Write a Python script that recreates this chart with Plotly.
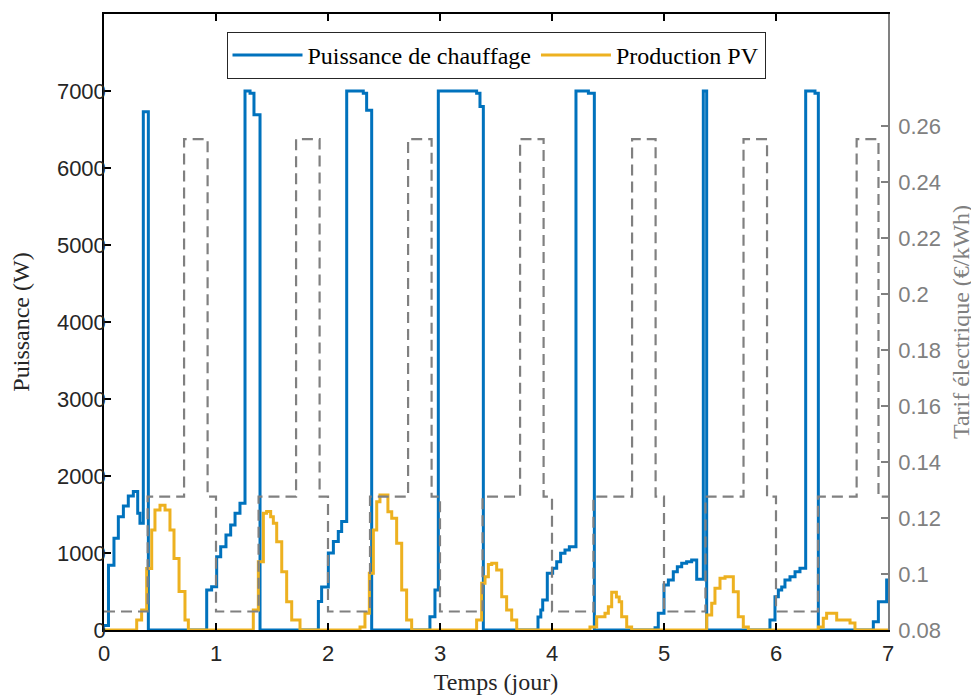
import plotly.graph_objects as go

# ---- Heating power (W), step breakpoints: time (day) / value ----
heat_t = [0.0, 0.04, 0.089, 0.128, 0.173, 0.217, 0.262, 0.301, 0.321, 0.351, 0.396,
          0.917, 0.961, 1.006, 1.042, 1.089, 1.131, 1.17, 1.214, 1.259, 1.304, 1.339, 1.393,
          1.914, 1.943, 2.003, 2.048, 2.092, 2.122, 2.167, 2.315, 2.345, 2.39,
          2.91, 2.955, 2.985, 3.327, 3.357, 3.387,
          3.875, 3.9, 3.917, 3.958, 4.006, 4.042, 4.077, 4.116, 4.155, 4.214, 4.325, 4.378,
          4.92, 4.949, 5.0, 5.039, 5.083, 5.119, 5.158, 5.202, 5.247, 5.292, 5.351, 5.381,
          5.946, 5.991, 6.021, 6.051, 6.08, 6.125, 6.17, 6.214, 6.265, 6.348, 6.378,
          6.869, 6.914, 6.988, 7.0]
heat_w = [60, 840, 1190, 1470, 1610, 1740, 1800, 1515, 1385, 6730, 0,
          519, 563, 952, 1082, 1234, 1364, 1515, 1645, 7000, 6970, 6690, 0,
          370, 560, 1000, 1150, 1280, 1410, 7000, 6970, 6750, 0,
          173, 519, 7000, 6970, 6800, 0,
          170, 260, 390, 736, 801, 887, 996, 1039, 1082, 7000, 6970, 0,
          30, 216, 584, 649, 757, 822, 866, 887, 909, 660, 7000, 0,
          130, 433, 519, 560, 649, 692, 757, 801, 7000, 6970, 0,
          108, 368, 649, 649]

# ---- PV production (W) ----
pv_t = [0.0, 0.292, 0.336, 0.381, 0.426, 0.455, 0.5, 0.545, 0.589, 0.625, 0.67, 0.723, 0.753,
        1.333, 1.378, 1.423, 1.452, 1.488, 1.512, 1.542, 1.587, 1.631, 1.676, 1.75,
        2.286, 2.33, 2.369, 2.405, 2.435, 2.464, 2.535, 2.569, 2.613, 2.658, 2.702, 2.747,
        3.327, 3.372, 3.402, 3.432, 3.462, 3.506, 3.551, 3.595, 3.64, 3.685,
        4.339, 4.399, 4.473, 4.503, 4.533, 4.575, 4.6, 4.622, 4.667, 4.711,
        5.381, 5.426, 5.455, 5.5, 5.545, 5.619, 5.663, 5.708, 5.753,
        6.378, 6.422, 6.452, 6.542, 6.661, 6.705, 7.0]
pv_w = [0, 130, 260, 800, 1300, 1560, 1620, 1560, 1300, 930, 500, 130, 0,
        260, 887, 1515, 1540, 1472, 1385, 1147, 757, 368, 130, 0,
        40, 216, 736, 1299, 1667, 1753, 1537, 1450, 1126, 519, 130, 0,
        130, 606, 692, 850, 866, 779, 433, 260, 130, 0,
        40, 173, 216, 303, 490, 430, 368, 173, 40, 0,
        195, 346, 541, 671, 692, 498, 173, 40, 0,
        40, 152, 216, 130, 90, 0, 0]

# ---- Electricity tariff (EUR/kWh) ----
tariff_t = [0.0, 0.39, 0.715, 0.925,
            1.0, 1.38, 1.715, 1.925,
            2.0, 2.375, 2.715, 2.925,
            3.0, 3.38, 3.715, 3.925,
            4.0, 4.37, 4.715, 4.925,
            5.0, 5.37, 5.71, 5.92,
            6.0, 6.375, 6.72, 6.915, 7.0]
tariff_v = [0.0866, 0.1276, 0.2553, 0.1276,
            0.0866, 0.1276, 0.2553, 0.1276,
            0.0866, 0.1276, 0.2553, 0.1276,
            0.0866, 0.1276, 0.2553, 0.1276,
            0.0866, 0.1276, 0.2553, 0.1276,
            0.0866, 0.1276, 0.2553, 0.1276,
            0.0866, 0.1276, 0.2553, 0.1276, 0.1276]

x_ticks = [0, 1, 2, 3, 4, 5, 6, 7]
y_ticks = [0, 1000, 2000, 3000, 4000, 5000, 6000, 7000]
y2_ticks = [0.08, 0.10, 0.12, 0.14, 0.16, 0.18, 0.20, 0.22, 0.24, 0.26]
y2_labels = ["0.08", "0.1", "0.12", "0.14", "0.16", "0.18", "0.2", "0.22", "0.24", "0.26"]

BLUE = "#0072BD"
YELLOW = "#EDB120"
GRAY = "#808080"
SANS = "Liberation Sans, Arial, sans-serif"
SERIF = "Liberation Serif, Times New Roman, serif"

fig = go.Figure()
fig.add_trace(go.Scatter(x=heat_t, y=heat_w, mode="lines", line_shape="hv",
                         line=dict(color=BLUE, width=3), name="Puissance de chauffage"))
fig.add_trace(go.Scatter(x=pv_t, y=pv_w, mode="lines", line_shape="hv",
                         line=dict(color=YELLOW, width=3), name="Production PV"))
fig.add_trace(go.Scatter(x=tariff_t, y=tariff_v, mode="lines", line_shape="hv",
                         line=dict(color=GRAY, width=2.2, dash="11px,6px"),
                         yaxis="y2", showlegend=False, name="Tarif"))

fig.update_layout(
    width=979, height=698,
    margin=dict(l=96, r=99, t=6, b=76, autoexpand=False),
    paper_bgcolor="white", plot_bgcolor="white",
    showlegend=True,
    legend=dict(orientation="h", x=0.5, xanchor="center", y=0.971, yanchor="top",
                font=dict(family=SERIF, size=24, color="black"),
                bgcolor="white", bordercolor="#262626", borderwidth=1,
                itemwidth=70),
    xaxis=dict(range=[0, 7], tickmode="array", tickvals=x_ticks, automargin=False,
               ticks="inside", ticklen=7, tickwidth=1.5, tickcolor="black",
               showline=True, linecolor="black", linewidth=1.5, mirror="ticks",
               showgrid=False, zeroline=False, ticklabelstandoff=3,
               tickfont=dict(family=SANS, size=22, color="#262626"),
               title=dict(text="Temps (jour)", font=dict(family=SERIF, size=24, color="#262626"),
                          standoff=8)),
    yaxis=dict(range=[0, 8000], tickmode="array", tickvals=y_ticks, automargin=False,
               ticks="inside", ticklen=7, tickwidth=1.5, tickcolor="black",
               showline=True, linecolor="black", linewidth=1.5, mirror=False,
               showgrid=False, zeroline=False, ticklabelstandoff=-8,
               tickfont=dict(family=SANS, size=22, color="#262626"),
               title=dict(text="Puissance (W)", font=dict(family=SERIF, size=24, color="#262626"),
                          standoff=20)),
    yaxis2=dict(range=[0.08, 0.30], overlaying="y", side="right", automargin=False,
                tickmode="array", tickvals=y2_ticks, ticktext=y2_labels,
                ticks="inside", ticklen=7, tickwidth=1.5, tickcolor=GRAY,
                showline=True, linecolor=GRAY, linewidth=1.5,
                showgrid=False, zeroline=False, ticklabelstandoff=4,
                tickfont=dict(family=SANS, size=22, color=GRAY),
                title=dict(text="Tarif électrique (€/kWh)", font=dict(family=SERIF, size=24, color=GRAY),
                           standoff=12)),
)

fig.write_html("out.html")
